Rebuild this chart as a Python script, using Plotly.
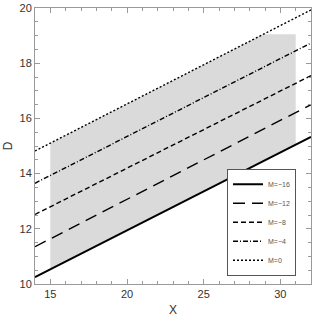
import plotly.graph_objects as go

# ---- data ----
m_labels = ["M=\u221216", "M=\u221212", "M=\u22128", "M=\u22124", "M=0"]
x_ends = [14, 32]
d_left = [10.25, 11.35, 12.52, 13.65, 14.82]   # D at X=14
d_right = [15.33, 16.50, 17.55, 18.73, 19.93]  # D at X=32
region_x = [15.0, 31.0]   # shaded region X bounds
region_dmax = 19.05       # shaded region flat top

dashes = ["solid", "12px,7px", "5px,3px", "5px,2px,1px,2px", "2px,2px"]
widths = [2.0, 1.4, 1.4, 1.4, 1.4]


def line_val(i, x):
    x0, x1 = x_ends
    return d_left[i] + (d_right[i] - d_left[i]) * (x - x0) / (x1 - x0)


# shaded polygon: bottom = M=-16 line, top = min(M=0 line, cap)
top_i = len(d_left) - 1
x_cross = x_ends[0] + (region_dmax - d_left[top_i]) * (x_ends[1] - x_ends[0]) / (d_right[top_i] - d_left[top_i])
poly_x = [region_x[0], region_x[0], x_cross, region_x[1], region_x[1], region_x[0]]
poly_y = [line_val(0, region_x[0]), line_val(top_i, region_x[0]), region_dmax,
          region_dmax, line_val(0, region_x[1]), line_val(0, region_x[0])]

fig = go.Figure()
fig.add_trace(go.Scatter(x=poly_x, y=poly_y, fill="toself", fillcolor="#dadada",
                         line=dict(width=0), mode="lines", showlegend=False,
                         hoverinfo="skip"))
for i, lab in enumerate(m_labels):
    fig.add_trace(go.Scatter(x=x_ends, y=[d_left[i], d_right[i]], mode="lines",
                             name=lab,
                             line=dict(color="black", width=widths[i], dash=dashes[i])))

axis_common = dict(
    showline=True, linecolor="#9a9a9a", linewidth=1, mirror="ticks",
    ticks="inside", ticklen=5, tickcolor="#9a9a9a", tickwidth=1,
    showgrid=False, zeroline=False, automargin=False,
    tickfont=dict(family="Liberation Sans", size=11, color="#333333"),
)

fig.update_xaxes(range=[14, 32], tickvals=[15, 20, 25, 30],
                 minor=dict(dtick=1, ticks="inside", ticklen=3, tickcolor="#9a9a9a", showgrid=False),
                 title=dict(text="X", font=dict(family="Liberation Sans", size=12, color="#333333"), standoff=6),
                 **axis_common)
fig.update_yaxes(range=[10, 20], tickvals=[10, 12, 14, 16, 18, 20],
                 minor=dict(dtick=0.5, ticks="inside", ticklen=3, tickcolor="#9a9a9a", showgrid=False),
                 title=dict(text="D", font=dict(family="Liberation Sans", size=12, color="#333333"), standoff=4),
                 **axis_common)

fig.update_layout(
    width=313, height=321,
    margin=dict(l=35, r=2, t=8, b=37),
    paper_bgcolor="white", plot_bgcolor="white",
    legend=dict(x=0.9457, y=0.03, xanchor="right", yanchor="bottom",
                bordercolor="#555555", borderwidth=1, bgcolor="white",
                font=dict(family="Liberation Sans", size=7, color="#555555"),
                itemwidth=30, tracegroupgap=0),
    showlegend=True,
)

fig.write_html("out.html", config={"displayModeBar": False},
               post_script="document.body.style.margin='0';document.body.style.overflow='hidden';")
